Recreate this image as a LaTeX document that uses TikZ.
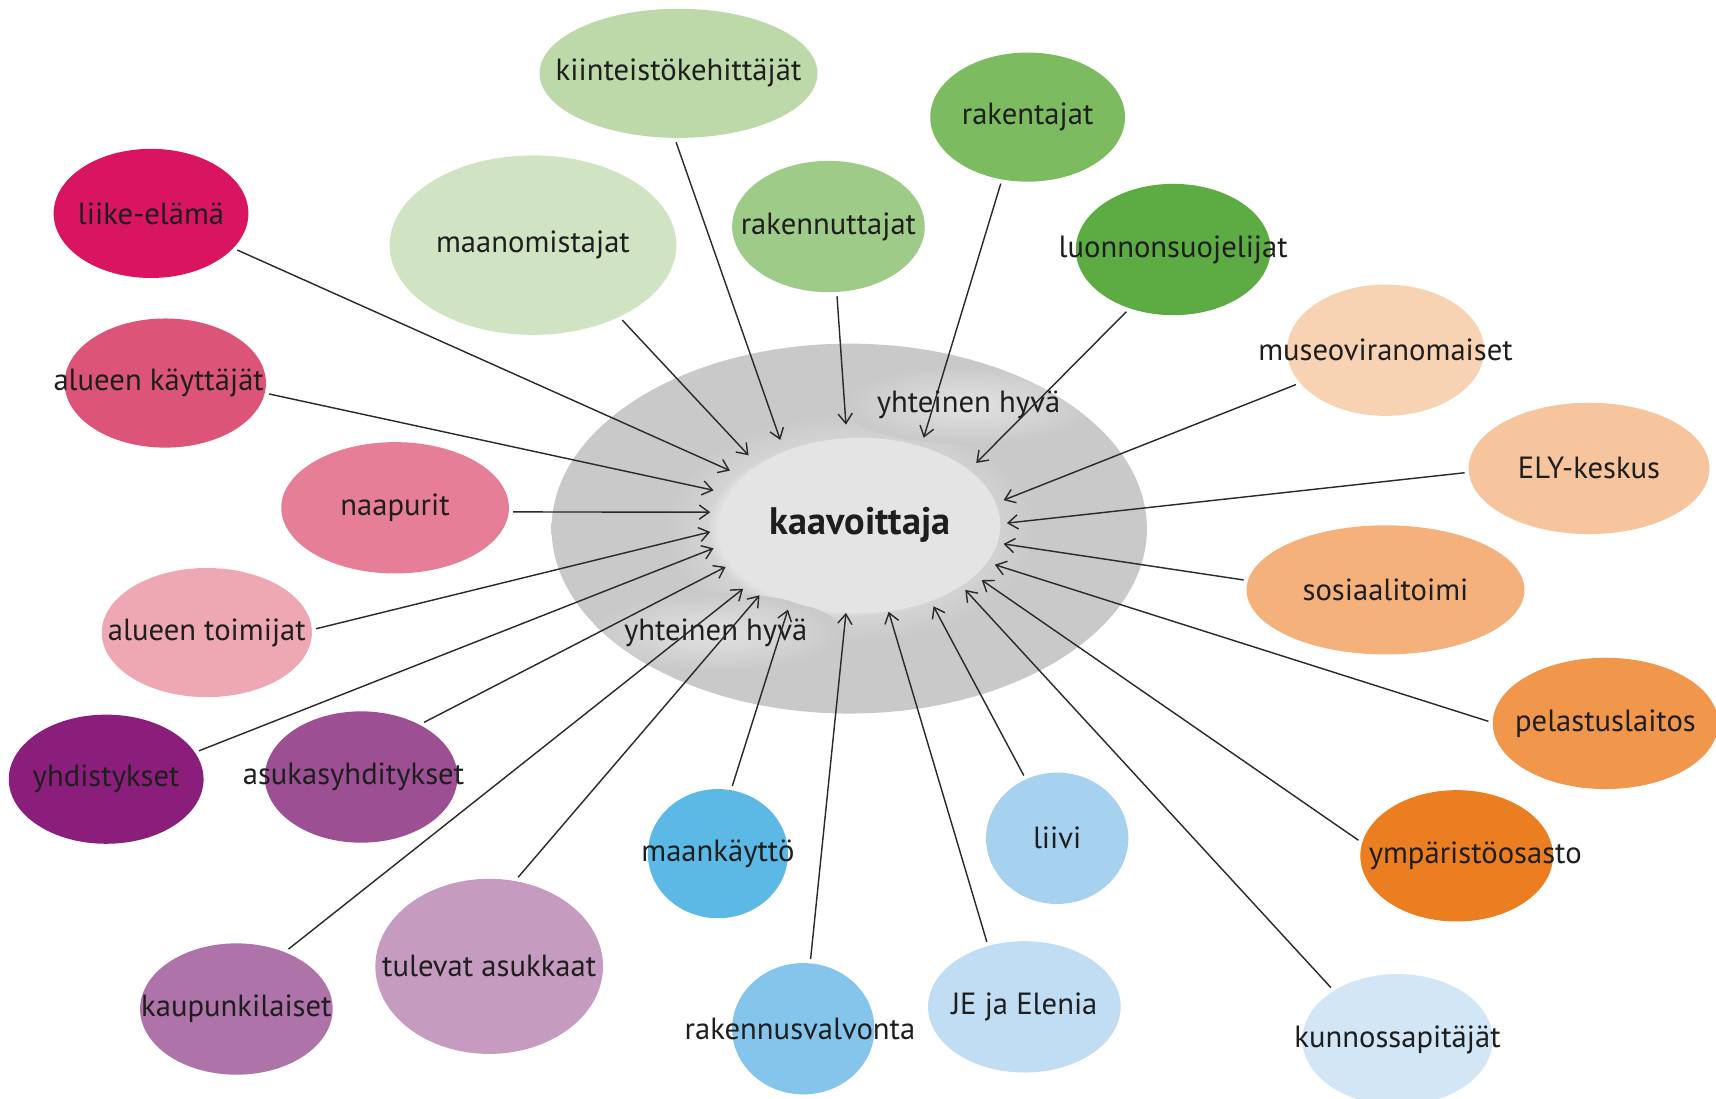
\documentclass[tikz,border=0pt]{standalone}
\usepackage{fontspec}
\setmainfont{PT Sans}
\usetikzlibrary{arrows.meta,shapes.geometric}
\definecolor{txt}{HTML}{1E1E1E}
\definecolor{linec}{HTML}{2A2A2A}
\definecolor{cgray}{HTML}{C9C9C9}
\definecolor{ringlight}{HTML}{D3D3D3}
\definecolor{innerc}{HTML}{E4E4E4}
\definecolor{tglow}{HTML}{E2E2E2}
\definecolor{tglowm}{HTML}{D6D6D6}
\definecolor{ckiint}{HTML}{BDD9AA}
\definecolor{cmaan}{HTML}{D0E4C3}
\definecolor{craknut}{HTML}{9FCB88}
\definecolor{crakent}{HTML}{7DBB60}
\definecolor{cluonto}{HTML}{5DAB43}
\definecolor{cliike}{HTML}{D91460}
\definecolor{cakaytt}{HTML}{DD5479}
\definecolor{cnaap}{HTML}{E57E96}
\definecolor{catoim}{HTML}{EEA8B4}
\definecolor{cyhd}{HTML}{8B1E7B}
\definecolor{casuk}{HTML}{9C4F93}
\definecolor{ckaup}{HTML}{AE73A8}
\definecolor{ctulev}{HTML}{C59BC0}
\definecolor{cmaank}{HTML}{5CB9E6}
\definecolor{crakval}{HTML}{85C4EB}
\definecolor{cliivi}{HTML}{A7D2EF}
\definecolor{cje}{HTML}{C1DDF3}
\definecolor{ckunn}{HTML}{D3E6F5}
\definecolor{cymp}{HTML}{EC7E22}
\definecolor{cpel}{HTML}{F0974C}
\definecolor{csos}{HTML}{F4B17C}
\definecolor{cely}{HTML}{F6C59D}
\definecolor{cmuseo}{HTML}{F8D3B3}
\pgfdeclareradialshading{ringglow}{\pgfpoint{0bp}{0bp}}{color(0bp)=(innerc); color(11bp)=(innerc); color(12bp)=(ringlight); color(15.5bp)=(cgray); color(50bp)=(cgray)}
\pgfdeclareradialshading{txtglow}{\pgfpoint{0bp}{0bp}}{color(0bp)=(tglow); color(12bp)=(tglowm); color(25bp)=(cgray); color(50bp)=(cgray)}
\newcommand\lbl[1]{\makebox[0pt]{#1}}
\begin{document}
\begin{tikzpicture}[x=1pt,y=-1pt,
  bub/.style={ellipse, inner sep=0pt, outer sep=4pt, text=txt,
    font=\fontsize{28}{30}\selectfont},
  arr/.style={draw=linec, line width=1.3pt,
    -{Straight Barb[length=9pt,width=13pt,line width=1.3pt]}}]
\useasboundingbox (0,0) rectangle (1568,1004);
\fill[white] (0,0) rectangle (1568,1004);
% central area
\shade[shading=ringglow] (776,483) ellipse [x radius=272, y radius=169];
\begin{scope}
  \clip (776,483) ellipse [x radius=272, y radius=169];
  \shade[shading=txtglow] (885,370) ellipse [x radius=115, y radius=36];
  \shade[shading=txtglow] (654,578) ellipse [x radius=115, y radius=36];
\end{scope}
\node[ellipse, fill=innerc, inner sep=0pt, outer sep=0pt, minimum width=256, minimum height=160, text=txt,
  font=\fontsize{35}{37}\selectfont\bfseries] (kaav) at (786,480) {\lbl{kaavoittaja}};
\node[text=txt, font=\fontsize{28}{30}\selectfont] (yh1) at (885,370) {yhteinen hyvä};
\node[text=txt, font=\fontsize{28}{30}\selectfont] (yh2) at (654,578) {yhteinen hyvä};
% bubbles
\node[bub, fill=ckiint, minimum width=254, minimum height=118] (kiint) at (620,67) {\lbl{kiinteistökehittäjät}};
\node[bub, fill=cmaan, minimum width=262, minimum height=164] (maan) at (487,224) {\lbl{maanomistajat}};
\node[bub, fill=craknut, minimum width=176, minimum height=120] (raknut) at (757,207) {\lbl{rakennuttajat}};
\node[bub, fill=crakent, minimum width=178, minimum height=118] (rakent) at (939,107) {\lbl{rakentajat}};
\node[bub, fill=cluonto, minimum width=178, minimum height=120] (luonto) at (1072,228) {\lbl{luonnonsuojelijat}};
\node[bub, fill=cliike, minimum width=178, minimum height=118] (liike) at (138,195) {\lbl{liike-elämä}};
\node[bub, fill=cakaytt, minimum width=184, minimum height=118] (akaytt) at (151,350) {\lbl{\hspace*{-12pt}alueen käyttäjät}};
\node[bub, fill=cnaap, minimum width=208, minimum height=120] (naap) at (361,464) {\lbl{naapurit}};
\node[bub, fill=catoim, minimum width=192, minimum height=118] (atoim) at (189,578) {\lbl{alueen toimijat}};
\node[bub, fill=cyhd, minimum width=178, minimum height=118] (yhd) at (97,712) {\lbl{yhdistykset}};
\node[bub, fill=casuk, minimum width=176, minimum height=120] (asuk) at (330,710) {\lbl{\hspace*{-14pt}asukasyhditykset}};
\node[bub, fill=ckaup, minimum width=176, minimum height=120] (kaup) at (216,922) {\lbl{kaupunkilaiset}};
\node[bub, fill=ctulev, minimum width=208, minimum height=160] (tulev) at (447,883) {\lbl{tulevat asukkaat}};
\node[bub, fill=cmaank, minimum width=128, minimum height=118] (maank) at (656,780) {\lbl{maankäyttö}};
\node[bub, fill=crakval, minimum width=130, minimum height=120] (rakval) at (734,940) {\lbl{\hspace*{-6pt}rakennusvalvonta}};
\node[bub, fill=cliivi, minimum width=130, minimum height=120] (liivi) at (966,766) {\lbl{liivi}};
\node[bub, fill=cje, minimum width=176, minimum height=120] (je) at (936,920) {\lbl{JE ja Elenia}};
\node[bub, fill=ckunn, minimum width=174, minimum height=120] (kunn) at (1277,950) {\lbl{kunnossapitäjät}};
\node[bub, fill=cymp, minimum width=176, minimum height=120] (ymp) at (1331,782) {\lbl{\hspace*{34pt}ympäristöosasto}};
\node[bub, fill=cpel, minimum width=206, minimum height=120] (pel) at (1467,661) {\lbl{pelastuslaitos}};
\node[bub, fill=csos, minimum width=254, minimum height=118] (sos) at (1266,539) {\lbl{sosiaalitoimi}};
\node[bub, fill=cely, minimum width=220, minimum height=120] (ely) at (1452,428) {\lbl{ELY-keskus}};
\node[bub, fill=cmuseo, minimum width=180, minimum height=120] (museo) at (1266,320) {\lbl{museoviranomaiset}};
% arrow tips
\coordinate (tkiint) at (713,402);
\coordinate (tmaan) at (684,416);
\coordinate (traknut) at (773,388);
\coordinate (trakent) at (844,400);
\coordinate (tluonto) at (892,423);
\coordinate (tmuseo) at (917,457);
\coordinate (tely) at (920,478);
\coordinate (tsos) at (917,497);
\coordinate (tpel) at (909,516);
\coordinate (tymp) at (897,530);
\coordinate (tkunn) at (882,539);
\coordinate (tliivi) at (853,554);
\coordinate (tje) at (812,559);
\coordinate (trakval) at (773,560);
\coordinate (tmaank) at (720,557);
\coordinate (ttulev) at (694,544);
\coordinate (tkaup) at (679,538);
\coordinate (tasuk) at (663,518);
\coordinate (tyhd) at (652,501);
\coordinate (tatoim) at (649,486);
\coordinate (tnaap) at (649,468);
\coordinate (takaytt) at (652,448);
\coordinate (tliike) at (667,430);
% arrows (start anchor angle on each bubble)
\foreach \n/\a in {kiint/-92,maan/-40,raknut/-83,rakent/-112,luonto/-127,museo/-159,ely/-178,sos/176,pel/179.5,ymp/171,kunn/142,liivi/118,je/120,rakval/84.5,maank/78,tulev/72,kaup/49.5,asuk/41,yhd/17,atoim/2.3,naap/-2,akaytt/-6,liike/-23.6}
  \draw[arr] (\n.\a) -- (t\n);
\end{tikzpicture}
\end{document}
